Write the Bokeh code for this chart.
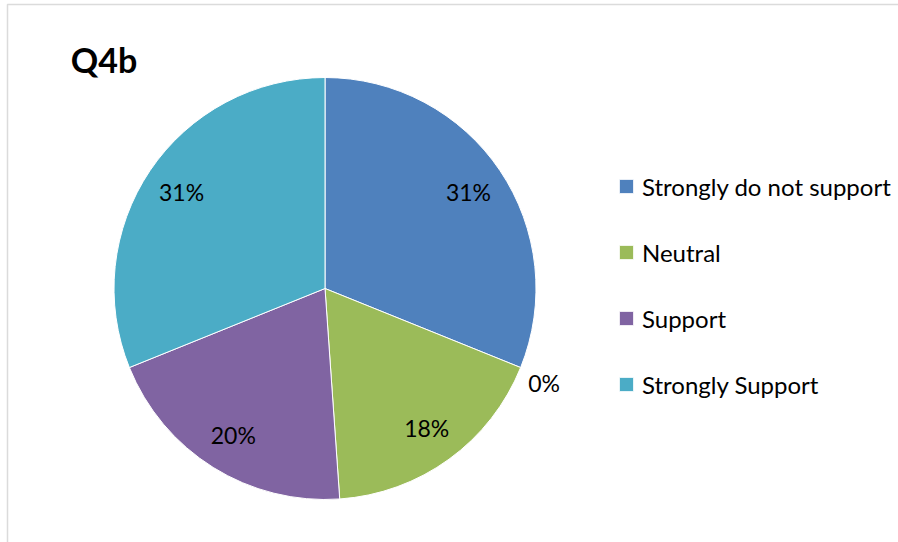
import math
from bokeh.plotting import figure
from bokeh.models import ColumnDataSource, Range1d, Legend, LegendItem, Label, BoxAnnotation
from bokeh.embed import file_html
from bokeh.resources import INLINE
from bokeh.core.properties import value

# ---- data ----
title_text = "Q4b"
categories = ["Strongly do not support", "Do not support", "Neutral", "Support", "Strongly Support"]
counts = [14, 0, 8, 9, 14]
colors = ["#4F81BD", "#C0504D", "#9BBB59", "#8064A2", "#4BACC6"]
legend_categories = ["Strongly do not support", "Neutral", "Support", "Strongly Support"]

# ---- layout ----
W, H = 898, 542
cx, cy, R = 324.5, 254.0, 211.0
FONT = "Lato"

total = float(sum(counts))
fracs = [c / total for c in counts]
starts, ends, mids = [], [], []
cum = 0.0
for f in fracs:
    a0 = math.pi / 2 - 2 * math.pi * cum
    cum += f
    a1 = math.pi / 2 - 2 * math.pi * cum
    starts.append(a0)
    ends.append(a1)
    mids.append((a0 + a1) / 2)
labels = [f"{round(f * 100)}%" for f in fracs]
lr = [R * 0.82 if f > 0 else R * 1.12 for f in fracs]
lx = [cx + r * math.cos(m) for r, m in zip(lr, mids)]
ly = [cy + r * math.sin(m) for r, m in zip(lr, mids)]
yoff = [0 if f > 0 else 6 for f in fracs]
alphas = [1.0 if c > 0 else 0.0 for c in counts]

src = ColumnDataSource(dict(cat=categories, count=counts, color=colors,
                            start=starts, end=ends, alpha=alphas,
                            lx=lx, ly=ly, label=labels, yoff=yoff))

p = figure(width=W, height=H, output_backend="svg", toolbar_location=None,
           x_range=Range1d(0, W), y_range=Range1d(0, H), min_border=0,
           outline_line_color=None)
p.axis.visible = False
p.grid.visible = False
p.background_fill_color = "white"
p.border_fill_color = "white"

wr = p.wedge(x=cx, y=cy, radius=R, start_angle="start", end_angle="end",
             direction="clock", fill_color="color", fill_alpha="alpha",
             line_color="white", line_width=1, line_alpha="alpha", source=src)

p.text(x="lx", y="ly", text="label", source=src, text_align="center",
       text_baseline="middle", text_font=value(FONT), text_font_size="23px",
       y_offset="yoff", text_color="black")

# border (top & left visible)
p.add_layout(BoxAnnotation(left=7, right=W + 100, top=H - 4, bottom=-100,
                           fill_alpha=0, line_color="#888888", line_width=1.5))

p.add_layout(Label(x=103.5, y=H - 59, text=title_text, text_font=FONT,
                   text_font_size="34px", text_font_style="bold",
                   text_align="center", text_baseline="middle", text_color="black"))

items = []
for name in legend_categories:
    idx = categories.index(name)
    items.append(LegendItem(label=name, renderers=[wr], index=idx))
legend = Legend(items=items, location=(617, 143), glyph_width=18, glyph_height=18,
                label_height=30, spacing=36, padding=0, margin=0,
                label_standoff=7, label_text_font=FONT, label_text_font_size="24px",
                label_text_color="black",
                border_line_color=None, background_fill_alpha=0)
p.add_layout(legend)

open("out.html", "w").write(file_html(p, INLINE))
